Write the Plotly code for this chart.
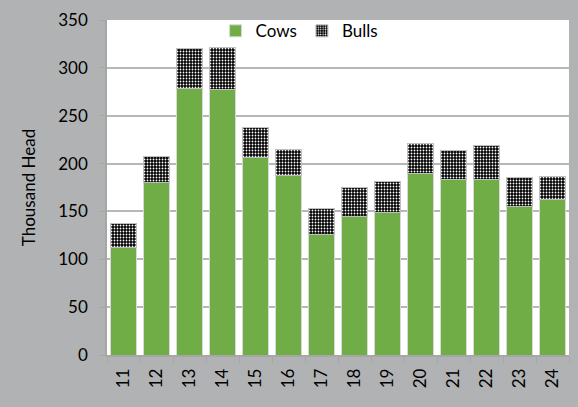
import plotly.graph_objects as go

years = ["11", "12", "13", "14", "15", "16", "17", "18", "19", "20", "21", "22", "23", "24"]
cows = [112, 180, 278, 277, 206, 188, 126, 145, 149, 190, 183, 183, 155, 162]
bulls = [25, 27, 42, 44, 32, 27, 27, 30, 32, 31, 31, 36, 30, 24]

GRAY_BG = "#b1b2b4"
GREEN = "#70ad47"
AXIS = "#a6a6a6"
FONT = "Lato, 'Open Sans', sans-serif"

fig = go.Figure()
fig.add_trace(go.Bar(
    x=years, y=cows, name="Cows",
    marker=dict(color=GREEN, line=dict(color="#d9d9d9", width=1)),
))
fig.add_trace(go.Bar(
    x=years, y=bulls, name="Bulls",
    marker=dict(
        color="black",
        line=dict(color="#bfbfbf", width=1),
        pattern=dict(shape=".", bgcolor="black", fgcolor="white",
                     size=3, solidity=0.3, fillmode="replace"),
    ),
))

fig.update_layout(
    width=578, height=407,
    barmode="stack", bargap=0.24,
    paper_bgcolor=GRAY_BG, plot_bgcolor="white",
    margin=dict(l=107, r=9, t=15, b=52),
    font=dict(family=FONT, size=16, color="black"),
    showlegend=True,
    legend=dict(orientation="h", x=0.235, xanchor="left", y=1.02, yanchor="top",
                bgcolor="rgba(0,0,0,0)", font=dict(size=17),
                itemwidth=30, traceorder="normal"),
)
fig.update_xaxes(
    type="category", tickangle=-90, showgrid=False,
    showline=True, linecolor=AXIS, linewidth=1.5,
    ticks="outside", tickson="boundaries", ticklen=6, tickcolor=AXIS,
    tickfont=dict(size=17), ticklabelstandoff=5,
)
fig.update_yaxes(
    range=[0, 350], dtick=50,
    showgrid=True, gridcolor="#b7b7b7", gridwidth=1.5,
    showline=True, linecolor=AXIS, linewidth=1.5,
    ticks="outside", ticklen=6, tickcolor=AXIS,
    tickfont=dict(size=17), ticklabelstandoff=8,
    title=dict(text="Thousand Head", font=dict(size=17), standoff=18),
    zeroline=False,
)

fig.write_html("out.html")
